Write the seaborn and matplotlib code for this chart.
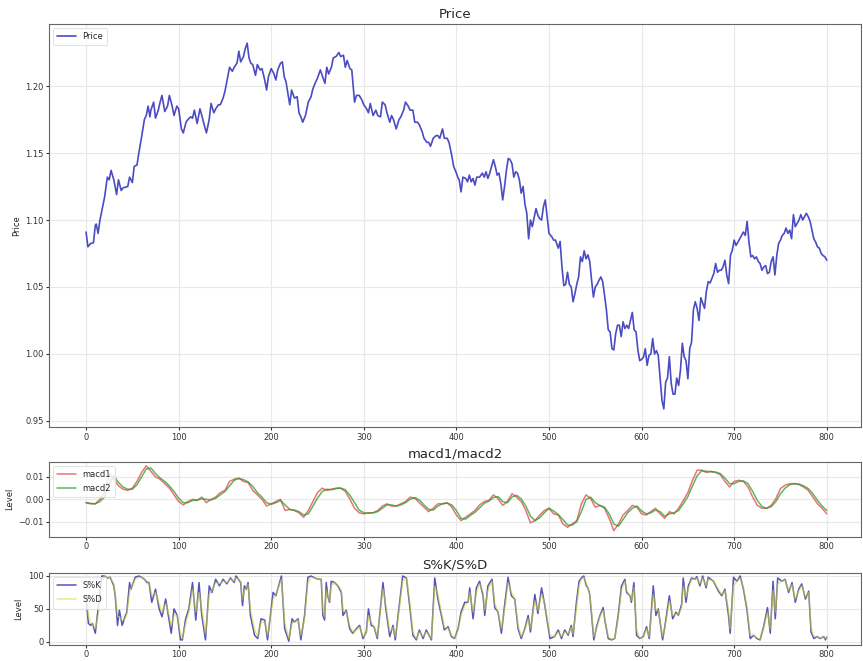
import matplotlib
matplotlib.use("Agg")
import matplotlib.pyplot as plt
import seaborn as sns

# ---------------- price series ----------------
price_day = [
    0, 2, 5, 8, 10, 11, 13, 15, 18, 20,
    23, 25, 27, 30, 33, 35, 38, 40, 45, 47,
    50, 52, 55, 57, 60, 63, 65, 67, 69, 70,
    73, 75, 78, 80, 82, 85, 88, 90, 93, 95,
    98, 100, 103, 105, 108, 110, 113, 115, 117, 120,
    123, 125, 128, 130, 133, 135, 138, 140, 143, 145,
    148, 150, 153, 155, 158, 160, 163, 165, 167, 170,
    172, 174, 176, 178, 180, 183, 185, 188, 190, 193,
    195, 197, 200, 203, 205, 207, 210, 212, 214, 216,
    218, 220, 222, 225, 228, 230, 232, 234, 237, 240,
    243, 245, 248, 250, 253, 255, 258, 260, 262, 265,
    267, 270, 273, 275, 278, 280, 282, 285, 287, 290,
    292, 295, 298, 300, 303, 305, 307, 310, 313, 315,
    318, 320, 323, 325, 328, 330, 332, 335, 338, 340,
    343, 345, 348, 350, 353, 355, 358, 360, 363, 365,
    368, 370, 372, 375, 378, 380, 382, 385, 387, 390,
    392, 395, 397, 400, 402, 403, 405, 407, 410, 412,
    414, 416, 418, 420, 422, 425, 428, 430, 432, 434,
    436, 438, 440, 442, 444, 446, 448, 450, 452, 454,
    456, 458, 460, 462, 464, 466, 468, 470, 472, 474,
    476, 478, 480, 482, 484, 486, 488, 490, 492, 494,
    496, 498, 500, 503, 505, 507, 510, 512, 514, 516,
    518, 520, 522, 524, 526, 528, 530, 532, 534, 536,
    538, 540, 542, 544, 546, 548, 550, 552, 554, 556,
    558, 560, 562, 564, 566, 568, 570, 572, 574, 576,
    578, 580, 582, 584, 586, 588, 590, 592, 594, 596,
    598, 600, 602, 604, 606, 608, 610, 612, 614, 616,
    618, 620, 622, 624, 626, 628, 630, 632, 634, 636,
    638, 640, 642, 644, 646, 648, 650, 652, 654, 656,
    658, 660, 662, 664, 666, 668, 670, 672, 674, 676,
    678, 680, 682, 684, 686, 688, 690, 692, 694, 696,
    698, 700, 702, 704, 706, 708, 710, 712, 714, 716,
    718, 720, 722, 724, 726, 728, 730, 732, 734, 736,
    738, 740, 742, 744, 746, 748, 750, 752, 754, 756,
    758, 760, 762, 764, 766, 768, 770, 772, 774, 776,
    778, 780, 782, 784, 786, 788, 790, 792, 794, 796,
    798, 800,
]
price = [
    1.091, 1.080, 1.0825, 1.083, 1.096, 1.097, 1.090, 1.100, 1.110, 1.117,
    1.132, 1.130, 1.137, 1.130, 1.119, 1.130, 1.122, 1.124, 1.125, 1.132,
    1.128, 1.140, 1.141, 1.150, 1.162, 1.175, 1.178, 1.185, 1.177, 1.182,
    1.188, 1.176, 1.182, 1.188, 1.193, 1.181, 1.185, 1.193, 1.185, 1.178,
    1.185, 1.183, 1.168, 1.165, 1.173, 1.175, 1.177, 1.176, 1.182, 1.172,
    1.183, 1.178, 1.170, 1.165, 1.175, 1.187, 1.180, 1.183, 1.186, 1.186,
    1.191, 1.196, 1.207, 1.214, 1.211, 1.214, 1.217, 1.226, 1.218, 1.222,
    1.228, 1.232, 1.221, 1.217, 1.216, 1.208, 1.216, 1.212, 1.213, 1.2045,
    1.197, 1.207, 1.213, 1.209, 1.2045, 1.212, 1.217, 1.218, 1.207, 1.203,
    1.1945, 1.186, 1.197, 1.191, 1.192, 1.180, 1.177, 1.173, 1.178, 1.188,
    1.192, 1.198, 1.203, 1.206, 1.212, 1.208, 1.202, 1.214, 1.209, 1.214,
    1.221, 1.222, 1.225, 1.222, 1.223, 1.214, 1.219, 1.213, 1.212, 1.188,
    1.193, 1.193, 1.1895, 1.186, 1.183, 1.180, 1.187, 1.178, 1.182, 1.178,
    1.177, 1.188, 1.186, 1.180, 1.173, 1.178, 1.175, 1.168, 1.175, 1.177,
    1.182, 1.188, 1.185, 1.182, 1.182, 1.173, 1.173, 1.171, 1.166, 1.161,
    1.158, 1.158, 1.155, 1.161, 1.163, 1.163, 1.161, 1.168, 1.161, 1.161,
    1.158, 1.148, 1.140, 1.135, 1.131, 1.130, 1.121, 1.132, 1.131, 1.1285,
    1.1335, 1.1285, 1.131, 1.126, 1.132, 1.132, 1.135, 1.132, 1.136, 1.131,
    1.135, 1.140, 1.145, 1.140, 1.1335, 1.135, 1.127, 1.115, 1.125, 1.137,
    1.146, 1.145, 1.142, 1.132, 1.136, 1.135, 1.130, 1.120, 1.125, 1.112,
    1.105, 1.086, 1.100, 1.095, 1.102, 1.1085, 1.1035, 1.101, 1.100, 1.110,
    1.115, 1.1025, 1.090, 1.0875, 1.085, 1.085, 1.079, 1.084, 1.065, 1.051,
    1.052, 1.061, 1.052, 1.050, 1.039, 1.045, 1.052, 1.0575, 1.0725, 1.069,
    1.077, 1.071, 1.074, 1.069, 1.055, 1.0425, 1.050, 1.052, 1.055, 1.0575,
    1.054, 1.044, 1.033, 1.018, 1.0165, 1.004, 1.003, 1.015, 1.0215, 1.0215,
    1.013, 1.024, 1.019, 1.0215, 1.019, 1.025, 1.031, 1.018, 1.0165, 1.003,
    0.995, 0.996, 0.9975, 1.004, 0.9915, 0.999, 1.000, 1.0115, 1.000, 1.0025,
    0.999, 0.982, 0.9655, 0.959, 0.979, 0.982, 0.998, 0.978, 0.970, 0.970,
    0.982, 0.9765, 0.988, 1.008, 0.998, 0.995, 0.9815, 1.004, 1.009, 1.033,
    1.039, 1.034, 1.025, 1.042, 1.038, 1.034, 1.047, 1.054, 1.053, 1.0565,
    1.060, 1.0675, 1.061, 1.0625, 1.0625, 1.065, 1.070, 1.059, 1.0525, 1.0735,
    1.0775, 1.085, 1.081, 1.0835, 1.086, 1.0885, 1.091, 1.0885, 1.099, 1.0835,
    1.0725, 1.0735, 1.071, 1.0725, 1.069, 1.0675, 1.0625, 1.065, 1.066, 1.060,
    1.061, 1.069, 1.0725, 1.059, 1.0735, 1.0825, 1.085, 1.0885, 1.090, 1.094,
    1.090, 1.0925, 1.086, 1.104, 1.095, 1.0975, 1.100, 1.104, 1.100, 1.1025,
    1.105, 1.1025, 1.099, 1.0925, 1.086, 1.0835, 1.080, 1.079, 1.075, 1.0735,
    1.0725, 1.070,
]

# ---------------- MACD lines ----------------
macd_day = list(range(0, 805, 5))
macd1 = [
    -0.0015, -0.002, -0.002, 0.000, 0.003, 0.0115, 0.009, 0.006, 0.0045, 0.004,
    0.005, 0.008, 0.012, 0.015, 0.0125, 0.010, 0.009, 0.007, 0.005, 0.002,
    -0.001, -0.0025, -0.001, 0.000, -0.0005, 0.001, -0.0015, 0.000, 0.001, 0.003,
    0.004, 0.008, 0.009, 0.0095, 0.008, 0.0075, 0.004, 0.002, 0.000, -0.003,
    -0.002, -0.001, 0.000, -0.005, -0.0045, -0.005, -0.006, -0.008, -0.005, -0.001,
    0.003, 0.005, 0.004, 0.0045, 0.005, 0.005, 0.0035, 0.000, -0.004, -0.006,
    -0.0065, -0.006, -0.006, -0.005, -0.003, -0.002, -0.003, -0.003, -0.002, -0.001,
    0.001, 0.0005, -0.0015, -0.0035, -0.0055, -0.004, -0.002, -0.002, -0.0015, -0.0035,
    -0.007, -0.0095, -0.008, -0.0065, -0.005, -0.0025, -0.001, -0.0005, 0.002, 0.0003,
    -0.0027, -0.001, 0.0025, 0.001, -0.001, -0.005, -0.0105, -0.0095, -0.007, -0.005,
    -0.004, -0.0065, -0.007, -0.011, -0.0125, -0.011, -0.0095, -0.002, 0.002, 0.0003,
    -0.0035, -0.0027, -0.004, -0.0085, -0.014, -0.011, -0.007, -0.005, -0.0027, -0.0035,
    -0.0065, -0.007, -0.0055, -0.004, -0.0065, -0.0085, -0.0055, -0.0065, -0.004, -0.0005,
    0.003, 0.0085, 0.013, 0.013, 0.012, 0.0125, 0.012, 0.011, 0.008, 0.0055,
    0.008, 0.0085, 0.008, 0.0055, 0.001, -0.0027, -0.004, -0.004, -0.0027, 0.0003,
    0.0048, 0.0063, 0.007, 0.007, 0.0066, 0.0055, 0.004, 0.001, -0.002, -0.004,
    -0.0065,
]
macd2 = [
    -0.0015, -0.0018, -0.002, -0.001, 0.001, 0.007, 0.0105, 0.0075, 0.0055, 0.0045,
    0.0045, 0.0065, 0.010, 0.0135, 0.014, 0.0115, 0.0095, 0.008, 0.006, 0.0035,
    0.0005, -0.0015, -0.0015, -0.0005, -0.0003, 0.0003, 0.0, -0.0003, 0.0005, 0.002,
    0.0035, 0.006, 0.0085, 0.0093, 0.0088, 0.0078, 0.0058, 0.003, 0.001, -0.0015,
    -0.0022, -0.0015, -0.0005, -0.0025, -0.0045, -0.0048, -0.0055, -0.007, -0.0065, -0.003,
    0.0005, 0.0035, 0.0045, 0.0043, 0.0048, 0.005, 0.0043, 0.0018, -0.0015, -0.0048,
    -0.006, -0.0062, -0.006, -0.0055, -0.004, -0.0025, -0.0025, -0.003, -0.0025, -0.0015,
    0.0, 0.0008, -0.0003, -0.0025, -0.0045, -0.0048, -0.003, -0.002, -0.0017, -0.0025,
    -0.005, -0.0085, -0.0088, -0.0072, -0.0058, -0.0038, -0.0018, -0.0008, 0.0008, 0.0012,
    -0.001, -0.0015, 0.001, 0.0018, 0.0002, -0.003, -0.0075, -0.0095, -0.0082, -0.006,
    -0.004, -0.0052, -0.0068, -0.009, -0.0115, -0.0115, -0.010, -0.0055, 0.0, 0.001,
    -0.0015, -0.0028, -0.0035, -0.0065, -0.011, -0.012, -0.009, -0.006, -0.004, -0.003,
    -0.0052, -0.0065, -0.006, -0.0048, -0.0055, -0.0075, -0.0065, -0.006, -0.005, -0.002,
    0.0012, 0.006, 0.0105, 0.0128, 0.0125, 0.0123, 0.0122, 0.0115, 0.0095, 0.007,
    0.007, 0.008, 0.0082, 0.007, 0.0035, -0.0005, -0.0032, -0.004, -0.0033, -0.001,
    0.0025, 0.005, 0.0065, 0.007, 0.0068, 0.006, 0.0048, 0.0025, -0.0005, -0.003,
    -0.005,
]

# ---------------- stochastic oscillator ----------------
stoch_day = [
    0, 2.5, 5, 7, 10, 13, 17, 20, 23, 26,
    30, 31.5, 34, 36, 39, 42, 44, 47, 48.5, 53,
    57, 60, 63, 66, 68, 71, 75, 79, 82, 86,
    89.5, 92, 95, 98.5, 102, 104, 107.6, 111, 115, 118.5,
    122, 125, 129, 133, 136, 140, 144, 148, 152, 156,
    160, 162, 167, 169, 171, 173, 175, 177.5, 182, 185.5,
    189, 193, 196, 202, 205, 211, 214.5, 219, 222.5, 225,
    229, 232, 236, 239.6, 243, 247, 251, 254, 255.8, 257.6,
    259.4, 261, 263, 264.8, 268.5, 272, 275.7, 277.5, 281, 284.7,
    288, 292, 295.5, 299, 302.7, 305, 308, 311, 314.6, 320.7,
    323.6, 328, 331.5, 334, 337, 342, 346, 349.5, 353, 356.7,
    360, 364, 367.5, 373, 376.6, 380, 383.8, 387, 391, 394.6,
    398, 401.8, 405, 409, 412.6, 414.4, 418, 421.6, 425, 428.8,
    430.6, 434, 438.5, 441.4, 445, 448.6, 452, 455.8, 459.4, 463,
    466.6, 470, 473.9, 477.5, 480, 484.7, 488, 492, 495.5, 501,
    506, 510, 513.5, 517, 520.7, 524, 526, 529.6, 532.5, 535,
    537.5, 540.4, 542, 544, 546, 548.4, 551.4, 555, 558.5, 560.3,
    564, 567.5, 571, 574.7, 578.3, 582, 583.8, 587.4, 589, 591.7,
    594.6, 598, 601.8, 605.4, 608.3, 612.6, 615.5, 618, 622.7, 625.3,
    630, 633.6, 637, 639.7, 643.3, 645, 648, 650.5, 654, 657.8,
    659.6, 663, 666, 669.7, 672, 677.6, 683, 686.6, 690, 693.9,
    695.7, 699.3, 703, 706.5, 710, 713.7, 717.3, 721, 724.5, 728,
    731.8, 736, 739, 742, 744.4, 747, 751.6, 755, 758.8, 762.5,
    766, 769.7, 773, 777, 780.5, 783, 786, 789.5, 793, 796.8,
    798.6, 800,
]
stoch_k = [
    70, 28, 25, 28, 13, 50, 100, 100, 97, 98,
    85, 70, 25, 48, 25, 38, 45, 90, 80, 98,
    100, 98, 95, 90, 90, 60, 80, 50, 38, 65,
    35, 13, 50, 40, 3, 3, 35, 50, 90, 33,
    90, 40, 3, 85, 75, 95, 85, 95, 88, 97,
    90, 100, 90, 55, 85, 80, 90, 40, 10, 5,
    35, 33, 3, 75, 70, 100, 20, 1, 35, 30,
    35, 3, 40, 98, 100, 97, 95, 95, 40, 33,
    90, 70, 60, 92, 90, 85, 75, 40, 48, 20,
    13, 20, 25, 5, 15, 50, 25, 23, 5, 90,
    52, 8, 25, 3, 40, 100, 97, 55, 10, 3,
    18, 5, 18, 3, 97, 65, 40, 18, 23, 8,
    5, 20, 45, 60, 60, 82, 35, 82, 92, 70,
    40, 85, 95, 52, 45, 13, 55, 98, 70, 65,
    20, 5, 20, 40, 15, 72, 43, 82, 55, 5,
    8, 18, 5, 18, 10, 25, 8, 60, 92, 97,
    100, 85, 82, 72, 40, 3, 23, 40, 52, 33,
    5, 3, 5, 40, 85, 95, 75, 70, 60, 90,
    10, 5, 8, 23, 5, 85, 40, 50, 3, 25,
    70, 35, 45, 40, 57, 97, 60, 85, 97, 95,
    99, 85, 100, 82, 98, 92, 77, 70, 80, 40,
    13, 98, 92, 100, 80, 50, 5, 10, 5, 3,
    23, 52, 13, 92, 35, 97, 92, 95, 75, 90,
    60, 80, 88, 65, 77, 15, 5, 8, 5, 8,
    3, 7,
]
stoch_d = [
    70, 40, 28, 27, 20, 40, 85, 100, 98, 97,
    88, 72, 38, 38, 33, 35, 42, 75, 82, 95,
    98, 98, 95, 92, 90, 70, 75, 58, 45, 58,
    42, 25, 40, 40, 12, 5, 28, 45, 80, 45,
    75, 50, 12, 72, 78, 90, 88, 92, 90, 95,
    92, 97, 92, 65, 78, 82, 87, 50, 18, 8,
    30, 30, 10, 65, 72, 95, 30, 5, 28, 30,
    33, 10, 35, 90, 98, 97, 95, 95, 50, 38,
    78, 72, 62, 85, 90, 86, 78, 48, 45, 25,
    15, 18, 23, 8, 13, 40, 30, 23, 8, 80,
    58, 15, 22, 8, 35, 92, 97, 62, 15, 5,
    15, 8, 15, 5, 85, 72, 45, 22, 20, 10,
    6, 17, 40, 55, 60, 75, 45, 75, 88, 75,
    48, 78, 92, 58, 45, 20, 48, 90, 75, 65,
    25, 8, 18, 35, 20, 62, 48, 72, 58, 10,
    8, 15, 8, 15, 12, 22, 12, 50, 85, 95,
    98, 88, 82, 72, 45, 8, 20, 38, 48, 35,
    8, 4, 5, 35, 78, 92, 78, 70, 63, 82,
    18, 6, 7, 20, 8, 72, 48, 48, 8, 22,
    62, 40, 43, 40, 52, 85, 68, 80, 95, 95,
    97, 88, 97, 85, 95, 92, 80, 72, 78, 48,
    20, 85, 92, 97, 82, 55, 10, 10, 6, 4,
    20, 45, 20, 78, 45, 88, 92, 94, 78, 87,
    65, 77, 85, 68, 75, 22, 8, 8, 6, 7,
    5, 6,
]

x_ticks = [0, 100, 200, 300, 400, 500, 600, 700, 800]

# ---------------- styling ----------------
sns.set_style("whitegrid", rc={
    "axes.edgecolor": "#666666",
    "axes.linewidth": 1.1,
    "grid.color": "#e8e8e8",
    "grid.linewidth": 0.8,
    "xtick.bottom": True,
    "ytick.left": True,
    "xtick.color": "#333333",
    "ytick.color": "#333333",
})
plt.rcParams["font.family"] = ["DejaVu Sans"]

fig = plt.figure(figsize=(8.63, 6.61), dpi=100)
left, width = 0.0568, 0.9409
ax_price = fig.add_axes([left, 0.354, width, 0.6097])
ax_macd = fig.add_axes([left, 0.188, width, 0.1135])
ax_stoch = fig.add_axes([left, 0.0245, width, 0.1086])

tick_fs = 6
title_fs = 9.5

# Price panel
sns.lineplot(x=price_day, y=price, ax=ax_price, color="#2c2cb8", linewidth=1.2,
             alpha=0.85, label="Price")
ax_price.set_ylim(0.9455, 1.2463)
ax_price.set_yticks([0.95, 1.00, 1.05, 1.10, 1.15, 1.20])
ax_price.set_ylabel("Price", fontsize=6)
ax_price.set_title("Price", fontsize=title_fs, pad=4)

# MACD panel
sns.lineplot(x=macd_day, y=macd1, ax=ax_macd, color="#e04848", linewidth=1.1,
             alpha=0.75, label="macd1")
sns.lineplot(x=macd_day, y=macd2, ax=ax_macd, color="#2e9a2e", linewidth=1.1,
             alpha=0.75, label="macd2")
ax_macd.set_ylim(-0.0167, 0.0168)
ax_macd.set_yticks([-0.01, 0.0, 0.01])
ax_macd.set_yticklabels(["\u22120.01", "0.00", "0.01"])
ax_macd.set_ylabel("Level", fontsize=6)
ax_macd.set_title("macd1/macd2", fontsize=title_fs, pad=3)

# Stochastic panel
sns.lineplot(x=stoch_day, y=stoch_k, ax=ax_stoch, color="#2a2ab0", linewidth=1.1,
             alpha=0.8, label="S%K")
sns.lineplot(x=stoch_day, y=stoch_d, ax=ax_stoch, color="#d8d820", linewidth=1.1,
             alpha=0.55, label="S%D")
ax_stoch.set_ylim(-4.5, 104.5)
ax_stoch.set_yticks([0, 50, 100])
ax_stoch.set_ylabel("Level", fontsize=6)
ax_stoch.set_title("S%K/S%D", fontsize=title_fs, pad=3)

for ax in (ax_price, ax_macd, ax_stoch):
    ax.set_xlim(-40, 837)
    ax.set_xticks(x_ticks)
    ax.set_xlabel("")
    ax.tick_params(labelsize=tick_fs, length=2.5, width=0.8, pad=1.5)
    ax.grid(True, color="#e8e8e8", linewidth=0.8)
    leg = ax.legend(loc="upper left", fontsize=6, frameon=True, framealpha=0.8,
                    borderpad=0.5, handlelength=2.2, labelspacing=0.6)
    leg.get_frame().set_edgecolor("#dddddd")
    leg.get_frame().set_linewidth(0.8)
    ax.yaxis.labelpad = 3

fig.savefig("out.png", dpi=100)
